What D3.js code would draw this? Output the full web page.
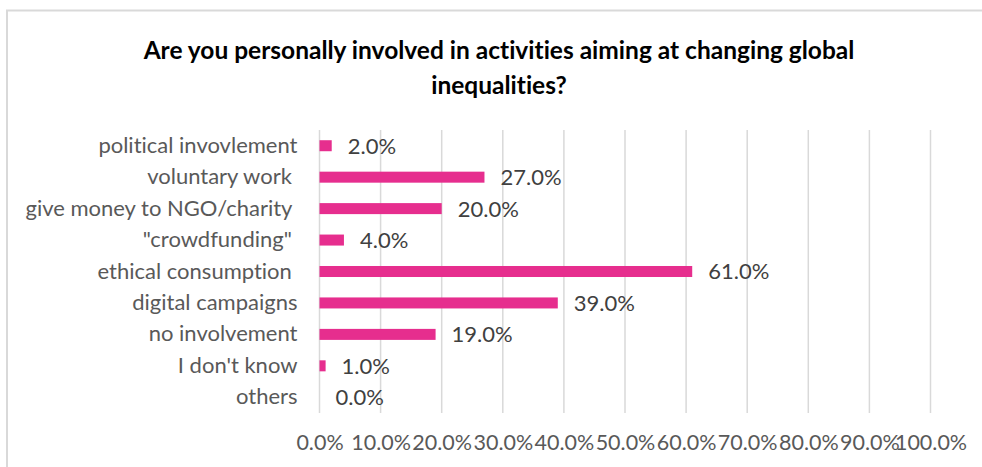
<!DOCTYPE html>
<html>
<head>
<meta charset="utf-8">
<script src="https://cdn.jsdelivr.net/npm/d3@7"></script>
<style>
  html, body { margin: 0; padding: 0; background: #fff; }
  svg { display: block; }
  text { font-family: Lato, "Open Sans", sans-serif; font-variant-ligatures: none; }
</style>
</head>
<body>
<svg id="chart" width="982" height="467"></svg>
<script>
// Survey answers, top to bottom
const categories = [
  "political invovlement",
  "voluntary work ",
  "give money to NGO/charity ",
  "\"crowdfunding\" ",
  "ethical consumption ",
  "digital campaigns",
  "no involvement",
  "I don't know",
  "others"
];
const shares = [0.02, 0.27, 0.20, 0.04, 0.61, 0.39, 0.19, 0.01, 0.00];
const tickValues = [0, 0.1, 0.2, 0.3, 0.4, 0.5, 0.6, 0.7, 0.8, 0.9, 1.0];
const titleLines = [
  "Are you personally involved in activities aiming at changing global",
  "inequalities?"
];

const svg = d3.select("#chart");
const W = 982, H = 467;
const plot = { left: 319.5, right: 930.5, top: 130, bottom: 413 };
const labelFont = "Lato, 'Open Sans', sans-serif";

// Chart frame (runs off the right and bottom edges)
svg.append("rect")
  .attr("x", 7).attr("y", 10.5)
  .attr("width", W + 20).attr("height", H + 20)
  .attr("fill", "#fff")
  .attr("stroke", "#d9d9d9")
  .attr("stroke-width", 2);

// Title
svg.append("g")
  .selectAll("text")
  .data(titleLines)
  .join("text")
  .attr("x", 499)
  .attr("y", (d, i) => 59 + i * 35)
  .attr("text-anchor", "middle")
  .attr("font-size", 24.5)
  .attr("font-weight", 700)
  .attr("fill", "#000")
  .text(d => d);

const x = d3.scaleLinear().domain([0, 1]).range([plot.left, plot.right]);
const y = d3.scaleBand()
  .domain(categories)
  .range([plot.top, plot.bottom])
  .paddingInner(0.65)
  .paddingOuter(0.325);

// Vertical gridlines
svg.append("g")
  .selectAll("line")
  .data(tickValues)
  .join("line")
  .attr("x1", d => x(d)).attr("x2", d => x(d))
  .attr("y1", plot.top).attr("y2", plot.bottom)
  .attr("stroke", "#d9d9d9")
  .attr("stroke-width", 1.5);

// Bottom axis: percentage labels only
const xAxis = d3.axisBottom(x)
  .tickValues(tickValues)
  .tickFormat(d3.format(".1%"))
  .tickSize(0)
  .tickPadding(0);
const gx = svg.append("g")
  .attr("transform", `translate(0,${plot.bottom + 22})`)
  .call(xAxis);
gx.select(".domain").remove();
gx.selectAll("text")
  .attr("font-family", labelFont)
  .attr("font-size", 21.5)
  .attr("fill", "#595959");

// Category axis
const yAxis = d3.axisLeft(y).tickSize(0).tickPadding(0);
const gy = svg.append("g")
  .attr("transform", `translate(${plot.left - 22},0)`)
  .call(yAxis);
gy.select(".domain").remove();
gy.selectAll("text")
  .attr("font-family", labelFont)
  .attr("font-size", 22)
  .attr("fill", "#595959")
  .style("white-space", "pre");

// Bars
svg.append("g")
  .selectAll("rect")
  .data(shares)
  .join("rect")
  .attr("x", x(0))
  .attr("y", (d, i) => y(categories[i]))
  .attr("width", d => x(d) - x(0))
  .attr("height", y.bandwidth())
  .attr("fill", "#e62e8e");

// Value labels
svg.append("g")
  .selectAll("text")
  .data(shares)
  .join("text")
  .attr("x", d => x(d) + 16)
  .attr("y", (d, i) => y(categories[i]) + y.bandwidth() / 2)
  .attr("dy", "0.36em")
  .attr("font-size", 22)
  .attr("fill", "#404040")
  .text(d => d3.format(".1%")(d));
</script>
</body>
</html>
